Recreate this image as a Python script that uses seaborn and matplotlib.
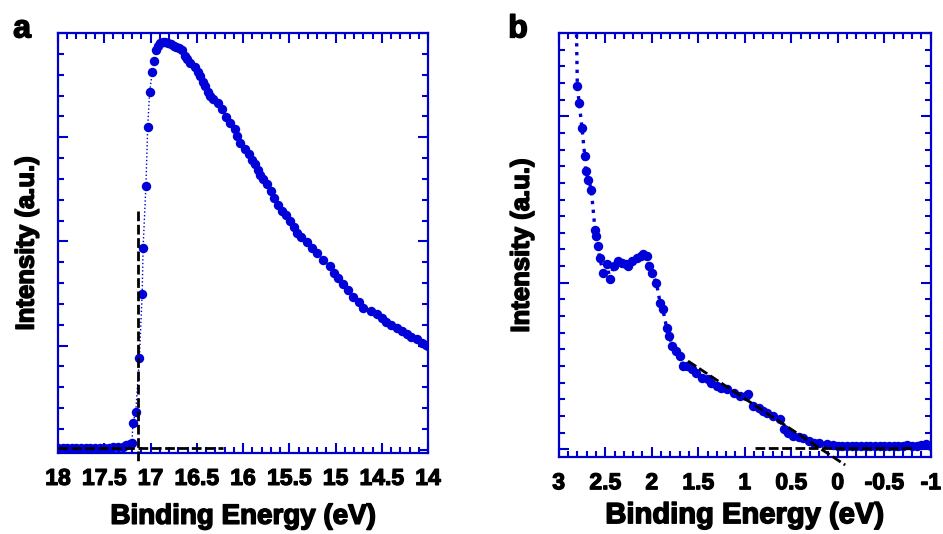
import numpy as np
import pandas as pd
import matplotlib
matplotlib.use('Agg')
import matplotlib.pyplot as plt
import matplotlib.patheffects as pe
import seaborn as sns
from matplotlib.ticker import MultipleLocator, FormatStrFormatter

# ---------------- data ----------------
# panel a : secondary electron cut-off
energy_a = [18.00, 17.95, 17.90, 17.85, 17.80, 17.75, 17.70, 17.65, 17.60, 17.55,
            17.50, 17.45, 17.40, 17.35, 17.30, 17.26, 17.22, 17.20, 17.19, 17.16,
            17.12, 17.09, 17.08, 17.05, 17.03, 17.01, 16.98, 16.96, 16.94, 16.92,
            16.90, 16.87, 16.84, 16.81, 16.78, 16.75, 16.72, 16.69, 16.66, 16.63,
            16.61, 16.57, 16.52, 16.49, 16.46, 16.43, 16.41, 16.38, 16.36, 16.32,
            16.27, 16.23, 16.18, 16.14, 16.09, 16.06, 16.03, 15.98, 15.94, 15.90,
            15.87, 15.84, 15.82, 15.78, 15.74, 15.70, 15.67, 15.62, 15.58, 15.53,
            15.49, 15.45, 15.42, 15.37, 15.31, 15.25, 15.20, 15.13, 15.06, 15.02,
            14.97, 14.92, 14.86, 14.81, 14.75, 14.70, 14.62, 14.55, 14.50, 14.45,
            14.40, 14.34, 14.28, 14.23, 14.18, 14.12, 14.07, 14.02, 14.00]
intensity_a = [0.02, 0.02, 0.02, 0.02, 0.02, 0.02, 0.02, 0.02, 0.02, 0.02,
               0.02, 0.02, 0.025, 0.03, 0.03, 0.05, 0.06, 0.07, 0.26, 0.36,
               0.88, 1.50, 1.94, 2.53, 3.10, 3.43, 3.63, 3.73, 3.84, 3.88,
               3.90, 3.91, 3.91, 3.90, 3.89, 3.88, 3.87, 3.86, 3.84, 3.78,
               3.75, 3.71, 3.67, 3.63, 3.59, 3.53, 3.49, 3.43, 3.40, 3.37,
               3.33, 3.27, 3.19, 3.14, 3.08, 3.01, 2.94, 2.89, 2.84, 2.78,
               2.74, 2.69, 2.64, 2.60, 2.55, 2.48, 2.42, 2.35, 2.29, 2.25,
               2.20, 2.14, 2.08, 2.04, 1.99, 1.94, 1.89, 1.82, 1.76, 1.70,
               1.65, 1.59, 1.53, 1.47, 1.42, 1.36, 1.33, 1.30, 1.27, 1.23,
               1.20, 1.17, 1.14, 1.11, 1.08, 1.06, 1.03, 1.01, 1.00]
# cut-off construction lines (a)
cut_a_x = [17.135, 17.135]
cut_a_y = [2.29, -0.13]
base_a_x = [18.0, 16.22]
base_a_y = [0.016, 0.016]

# panel b : valence band edge
energy_b = [2.82, 2.80, 2.78, 2.75, 2.72, 2.71, 2.68, 2.65, 2.61, 2.60,
            2.58, 2.56, 2.52, 2.48, 2.45, 2.41, 2.36, 2.32, 2.28, 2.25,
            2.21, 2.16, 2.12, 2.09, 2.05, 2.03, 2.00, 1.95, 1.91, 1.88,
            1.84, 1.81, 1.78, 1.74, 1.70, 1.66, 1.62, 1.57, 1.52, 1.46,
            1.40, 1.36, 1.30, 1.25, 1.19, 1.12, 1.05, 0.99, 0.96, 0.91,
            0.85, 0.80, 0.76, 0.70, 0.62, 0.58, 0.53, 0.48, 0.42, 0.37,
            0.31, 0.26, 0.20, 0.12, 0.05, 0.00, -0.05, -0.10, -0.15, -0.20,
            -0.25, -0.30, -0.35, -0.40, -0.45, -0.50, -0.55, -0.60, -0.65, -0.70,
            -0.75, -0.80, -0.85, -0.90, -0.95, -1.00]
intensity_b = [2.90, 2.18, 2.08, 1.93, 1.76, 1.67, 1.62, 1.56, 1.32, 1.28,
               1.22, 1.15, 1.06, 1.11, 1.02, 1.10, 1.13, 1.12, 1.11, 1.10,
               1.13, 1.15, 1.16, 1.17, 1.16, 1.10, 1.06, 1.00, 0.88, 0.84,
               0.73, 0.68, 0.62, 0.59, 0.56, 0.50, 0.50, 0.48, 0.46, 0.43,
               0.42, 0.40, 0.38, 0.37, 0.36, 0.34, 0.32, 0.32, 0.33, 0.26,
               0.25, 0.23, 0.22, 0.20, 0.18, 0.12, 0.10, 0.08, 0.075, 0.07,
               0.05, 0.04, 0.035, 0.03, 0.025, 0.02, 0.02, 0.02, 0.02, 0.02,
               0.02, 0.02, 0.02, 0.02, 0.02, 0.02, 0.02, 0.02, 0.02, 0.02,
               0.025, 0.02, 0.02, 0.025, 0.03, 0.02]
# valence band edge construction lines (b)
edge_b_x = [1.61, -0.08]
edge_b_y = [0.53, -0.094]
base_b_x = [0.89, -0.81]
base_b_y = [0.006, 0.006]

# ---------------- style ----------------
sns.set_style('ticks')
plt.rcParams['font.family'] = ['Liberation Sans', 'DejaVu Sans']
plt.rcParams['font.weight'] = 'bold'
plt.rcParams['axes.unicode_minus'] = False
plt.rcParams['text.color'] = 'black'
plt.rcParams['axes.labelcolor'] = 'black'
plt.rcParams['xtick.labelcolor'] = 'black'

BLUE = '#0000CC'
DOT = '#0000D8'
heavy = [pe.withStroke(linewidth=1.1, foreground='black')]

fig = plt.figure(figsize=(9.43, 5.34), dpi=100)
ax_a = fig.add_axes([0.0615, 0.1517, 0.3924, 0.7865])
ax_b = fig.add_axes([0.5925, 0.1436, 0.3945, 0.7946])

df_a = pd.DataFrame({'E': energy_a, 'I': intensity_a})
df_b = pd.DataFrame({'E': energy_b, 'I': intensity_b})

sns.lineplot(data=df_a, x='E', y='I', ax=ax_a, sort=False, estimator=None,
             color=DOT, linestyle=':', linewidth=1.0, marker='o',
             markersize=6.8, markeredgewidth=0)
sns.lineplot(data=df_b, x='E', y='I', ax=ax_b, sort=False, estimator=None,
             color=DOT, linestyle=':', linewidth=2.4, marker='o',
             markersize=6.8, markeredgewidth=0)

ax_a.plot(cut_a_x, cut_a_y, color='black', lw=2, dashes=(3.5, 1.3), clip_on=False, zorder=5)
ax_a.plot(base_a_x, base_a_y, color='black', lw=2, dashes=(3.5, 1.3), zorder=5)
ax_b.plot(edge_b_x, edge_b_y, color='black', lw=2, dashes=(3.5, 1.3), clip_on=False, zorder=5)
ax_b.plot(base_b_x, base_b_y, color='black', lw=2, dashes=(3.5, 1.3), zorder=5)

ax_a.set_xlim(18, 14)
ax_a.set_ylim(-0.03, 4.0)
ax_a.yaxis.set_major_locator(MultipleLocator(1.0))
ax_a.yaxis.set_minor_locator(MultipleLocator(0.2))

ax_b.set_xlim(3, -1)
ax_b.set_ylim(-0.048, 2.5)
ax_b.yaxis.set_major_locator(MultipleLocator(1.0))
ax_b.yaxis.set_minor_locator(MultipleLocator(0.1))

for ax, fs_x, pad_y, pad_x in [(ax_a, 20, 14, 10), (ax_b, 21, 18, 5)]:
    ax.xaxis.set_major_locator(MultipleLocator(0.5))
    ax.xaxis.set_minor_locator(MultipleLocator(0.1))
    ax.xaxis.set_major_formatter(FormatStrFormatter('%g'))
    for sp in ax.spines.values():
        sp.set_visible(True)
        sp.set_color(BLUE)
        sp.set_linewidth(1.6)
    ax.tick_params(which='both', direction='in', top=True, right=True,
                   color=BLUE, width=1.5, labelleft=False)
    ax.tick_params(which='major', length=7.5)
    ax.tick_params(which='minor', length=4)
    ax.tick_params(axis='x', which='major', pad=10, labelsize=16.5, labelcolor='black')
    ax.set_xlabel('Binding Energy (eV)', fontsize=fs_x, fontweight='bold', labelpad=pad_x,
                  path_effects=heavy)
    ax.set_ylabel('Intensity (a.u.)', fontsize=18.5, fontweight='bold', labelpad=pad_y,
                  path_effects=heavy)
    for lab in ax.get_xticklabels():
        lab.set_fontweight('bold')
        lab.set_path_effects([pe.withStroke(linewidth=0.9, foreground='black')])

fig.text(0.014, 0.93, 'a', fontsize=23, fontweight='bold', path_effects=heavy)
fig.text(0.539, 0.93, 'b', fontsize=23, fontweight='bold', path_effects=heavy)

fig.savefig('out.png', dpi=100)
